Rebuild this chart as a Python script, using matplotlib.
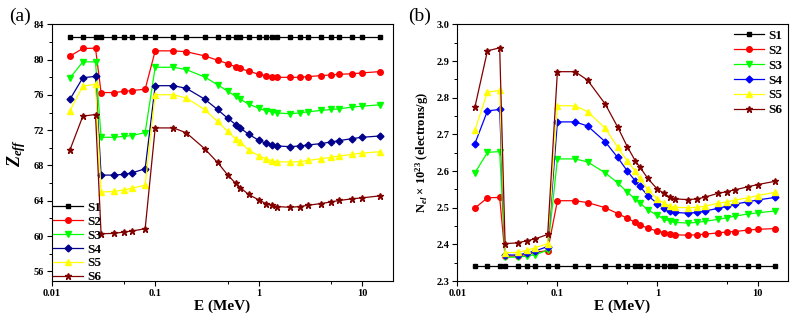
import matplotlib
matplotlib.use("Agg")
import matplotlib.pyplot as plt
from matplotlib.ticker import LogLocator, FixedLocator, FixedFormatter, MultipleLocator, NullFormatter

plt.rcParams['font.family'] = ['Liberation Serif', 'DejaVu Serif']
plt.rcParams['font.weight'] = 'bold'
plt.rcParams['mathtext.fontset'] = 'custom'
plt.rcParams['mathtext.rm'] = 'Liberation Serif:bold'
plt.rcParams['mathtext.bf'] = 'Liberation Serif:bold'
plt.rcParams['mathtext.it'] = 'Liberation Serif:bold:italic'

# photon energy (MeV)
energy = [0.015, 0.02, 0.0265, 0.03, 0.04, 0.05, 0.06, 0.08,
          0.1, 0.15, 0.2, 0.3, 0.4, 0.5, 0.6, 0.662, 0.8,
          1.0, 1.173, 1.332, 1.5, 2, 2.5, 3, 4, 5, 6, 8, 10, 15]

labels = ['S1', 'S2', 'S3', 'S4', 'S5', 'S6']

# effective atomic number
zeff_s1 = [82.6] * 30
zeff_s2 = [80.4, 81.27, 81.3, 76.27, 76.27, 76.4, 76.5, 76.65,
           81.0, 81.0, 80.9, 80.43, 79.94, 79.56, 79.18, 79.0, 78.7,
           78.34, 78.19, 78.08, 78.0, 78.0, 78.0, 78.08, 78.19, 78.27, 78.34, 78.4, 78.5, 78.65]
zeff_s3 = [77.92, 79.75, 79.75, 71.2, 71.2, 71.3, 71.4, 71.73,
           79.14, 79.14, 78.87, 78.04, 77.16, 76.44, 75.83, 75.53, 74.96,
           74.5, 74.2, 74.09, 73.97, 73.86, 73.97, 74.09, 74.24, 74.35, 74.43, 74.62, 74.73, 74.88]
zeff_s4 = [75.5, 77.96, 78.1, 66.91, 66.91, 67.0, 67.17, 67.63,
           77.05, 77.05, 76.75, 75.53, 74.35, 73.37, 72.64, 72.26, 71.54,
           70.86, 70.52, 70.33, 70.21, 70.14, 70.21, 70.33, 70.48, 70.67, 70.82, 71.05, 71.2, 71.35]
zeff_s5 = [74.2, 77.01, 77.2, 65.0, 65.05, 65.24, 65.43, 65.77,
           76.02, 76.02, 75.64, 74.35, 72.99, 71.88, 71.01, 70.67, 69.76,
           69.11, 68.77, 68.54, 68.43, 68.39, 68.43, 68.58, 68.77, 68.92, 69.07, 69.26, 69.41, 69.56]
zeff_s6 = [69.76, 73.6, 73.78, 60.26, 60.3, 60.45, 60.57, 60.83,
           72.26, 72.26, 71.7, 69.91, 68.35, 66.95, 65.96, 65.5, 64.71,
           64.1, 63.68, 63.49, 63.34, 63.26, 63.34, 63.49, 63.68, 63.87, 64.03, 64.22, 64.33, 64.56]

# electron density (x 10^23 electrons/g)
nel_s1 = [2.34] * 30
nel_s2 = [2.499, 2.527, 2.528, 2.368, 2.368, 2.373, 2.378, 2.383,
          2.519, 2.519, 2.514, 2.5, 2.484, 2.471, 2.46, 2.454, 2.444,
          2.436, 2.432, 2.429, 2.426, 2.425, 2.426, 2.428, 2.431, 2.434, 2.435, 2.439, 2.441, 2.443]
nel_s3 = [2.595, 2.651, 2.653, 2.365, 2.365, 2.368, 2.372, 2.384,
          2.633, 2.633, 2.625, 2.595, 2.568, 2.542, 2.524, 2.514, 2.494,
          2.479, 2.468, 2.463, 2.46, 2.458, 2.46, 2.463, 2.468, 2.473, 2.477, 2.483, 2.486, 2.491]
nel_s4 = [2.675, 2.764, 2.768, 2.371, 2.371, 2.376, 2.382, 2.394,
          2.734, 2.734, 2.723, 2.68, 2.637, 2.6, 2.573, 2.559, 2.533,
          2.511, 2.498, 2.491, 2.487, 2.485, 2.487, 2.491, 2.498, 2.504, 2.51, 2.516, 2.521, 2.528]
nel_s5 = [2.712, 2.815, 2.82, 2.377, 2.378, 2.384, 2.391, 2.402,
          2.778, 2.778, 2.762, 2.717, 2.665, 2.627, 2.6, 2.58, 2.55,
          2.523, 2.512, 2.504, 2.501, 2.5, 2.501, 2.504, 2.512, 2.516, 2.521, 2.527, 2.533, 2.542]
nel_s6 = [2.775, 2.928, 2.936, 2.402, 2.404, 2.41, 2.415, 2.427,
          2.871, 2.871, 2.848, 2.783, 2.72, 2.666, 2.628, 2.612, 2.58,
          2.55, 2.539, 2.528, 2.524, 2.522, 2.524, 2.529, 2.539, 2.544, 2.549, 2.557, 2.563, 2.572]

zeff = [zeff_s1, zeff_s2, zeff_s3, zeff_s4, zeff_s5, zeff_s6]
nel = [nel_s1, nel_s2, nel_s3, nel_s4, nel_s5, nel_s6]

markers = ['s', 'o', 'v', 'D', '^', '*']
msizes = [3.5, 4, 4.5, 3.5, 4.5, 5]
colors_a = ['black', '#ff0000', '#00ff00', '#00008b', '#ffff00', '#800000']
colors_b = ['black', '#ff0000', '#00ff00', '#0000ff', '#ffff00', '#800000']

fig = plt.figure(figsize=(7.93, 3.21), dpi=100)
ax1 = fig.add_axes([0.0652, 0.1246, 0.4308, 0.7994])
ax2 = fig.add_axes([0.5767, 0.1246, 0.4166, 0.7994])


def style_axis(ax):
    ax.set_xscale('log')
    ax.set_xlim(0.01, 20)
    ax.xaxis.set_major_locator(FixedLocator([0.01, 0.1, 1, 10]))
    ax.xaxis.set_major_formatter(FixedFormatter(['0.01', '0.1', '1', '10']))
    ax.xaxis.set_minor_locator(LogLocator(base=10, subs=[5]))
    ax.xaxis.set_minor_formatter(NullFormatter())
    ax.tick_params(which='major', direction='out', length=3.5, width=0.8, labelsize=7.5, pad=2)
    ax.tick_params(which='minor', direction='out', length=2, width=0.7)
    ax.tick_params(top=False, right=False, which='both')
    for lab in ax.get_xticklabels() + ax.get_yticklabels():
        lab.set_fontweight('bold')
    for sp in ax.spines.values():
        sp.set_linewidth(0.8)
    ax.set_xlabel('E (MeV)', fontsize=11, fontweight='bold', labelpad=1)


for i in range(6):
    ax1.plot(energy, zeff[i], color=colors_a[i], marker=markers[i], markersize=msizes[i],
             linewidth=0.9, label=labels[i])
    ax2.plot(energy, nel[i], color=colors_b[i], marker=markers[i], markersize=msizes[i],
             linewidth=0.9, label=labels[i])

style_axis(ax1)
ax1.set_ylim(54.9, 84)
ax1.yaxis.set_major_locator(MultipleLocator(4))
ax1.yaxis.set_minor_locator(MultipleLocator(2))
ax1.set_ylabel(r'$Z_{eff}$', fontsize=13, labelpad=4)
ax1.legend(loc='lower left', bbox_to_anchor=(-0.012, -0.03), frameon=False,
           handlelength=2.3, handletextpad=0.3, labelspacing=0.13, borderaxespad=0,
           prop={'weight': 'bold', 'size': 9.5})

style_axis(ax2)
ax2.set_ylim(2.3, 3.0)
ax2.yaxis.set_major_locator(MultipleLocator(0.1))
ax2.yaxis.set_minor_locator(MultipleLocator(0.05))
ax2.set_ylabel(r'N$_{el}$ × 10$^{23}$ (electrons/g)', fontsize=9, fontweight='bold', labelpad=4)
ax2.legend(loc='upper right', bbox_to_anchor=(1.0, 1.0), frameon=False,
           handlelength=2.3, handletextpad=0.3, labelspacing=0.2, borderaxespad=0,
           prop={'weight': 'bold', 'size': 9.5})

fig.text(0.012, 0.935, '(a)', fontsize=14, fontweight='normal')
fig.text(0.515, 0.935, '(b)', fontsize=14, fontweight='normal')

fig.savefig('out.png', dpi=100)
